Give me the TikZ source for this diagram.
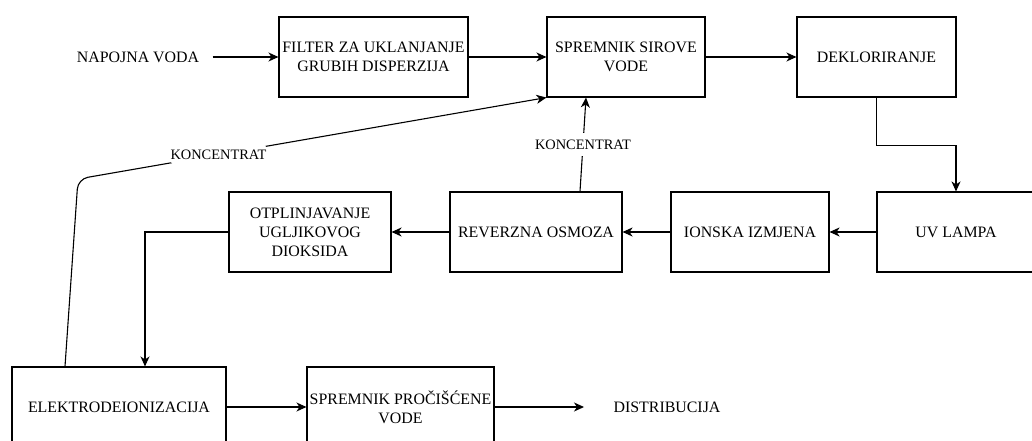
\documentclass[tikz,border=0pt]{standalone}
\usepackage{fontspec}
\setmainfont{Liberation Serif}
\usetikzlibrary{arrows.meta}
\begin{document}
\begin{tikzpicture}[x=1pt,y=-1pt,>={Stealth[length=10pt,width=9pt,inset=3pt]}, line width=1.1pt,
	box/.style={draw,minimum height=80pt,inner sep=0pt,align=center,font=\fontsize{15.9}{19}\selectfont},
	txt/.style={inner sep=0pt,font=\fontsize{15.9}{19}\selectfont},
	lbl/.style={fill=white,inner xsep=1.5pt,inner ysep=7pt,font=\fontsize{14.4}{16}\selectfont}]
	\useasboundingbox (0,0) rectangle (1032,441);
	\clip (0,0) rectangle (1032,441);
	% gornji red
	\node[txt] (napojna) at (138,57) {NAPOJNA VODA};
	\node[box,minimum width=189pt] (filter) at (373.5,57) {FILTER ZA UKLANJANJE\\GRUBIH DISPERZIJA};
	\node[box,minimum width=158pt] (sirova) at (626,57) {SPREMNIK SIROVE\\VODE};
	\node[box,minimum width=159pt] (deklor) at (876.5,57) {DEKLORIRANJE};
	% srednji red
	\node[box,minimum width=158pt] (uv) at (956,232) {UV LAMPA};
	\node[box,minimum width=158pt] (ionska) at (750,232) {IONSKA IZMJENA};
	\node[box,minimum width=172pt] (reverzna) at (536,232) {REVERZNA OSMOZA};
	\node[box,minimum width=162pt] (otplin) at (310,232) {OTPLINJAVANJE\\UGLJIKOVOG\\DIOKSIDA};
	% donji red
	\node[box,minimum width=214pt] (elektro) at (119,407) {ELEKTRODEIONIZACIJA};
	\node[box,minimum width=187pt] (procisc) at (400.5,407) {SPREMNIK PROČIŠĆENE\\VODE};
	\node[txt] (distrib) at (667,407) {DISTRIBUCIJA};
	% tok
	\draw[->,shorten <=13pt] (napojna) -- (filter);
	\draw[->] (filter) -- (sirova);
	\draw[->] (sirova) -- (deklor);
	\draw[->] (deklor.south) -- ++(0,48) -| (uv.north);
	\draw[->] (uv) -- (ionska);
	\draw[->] (ionska) -- (reverzna);
	\draw[->] (reverzna) -- (otplin);
	\draw[->] (otplin.west) -| ([xshift=26pt]elektro.north);
	\draw[->] (elektro) -- (procisc);
	\draw[->,shorten >=29pt] (procisc) -- (distrib);
	% koncentrat
	\draw[->] ([xshift=44pt]reverzna.north) -- node[lbl]{KONCENTRAT} ([xshift=-40pt]sirova.south);
	\coordinate (bend) at (78,179);
	\draw[->,rounded corners=10pt] ([xshift=-54pt]elektro.north) -- (bend) -- node[lbl,pos=0.3]{KONCENTRAT} (sirova.south west);
\end{tikzpicture}
\end{document}
